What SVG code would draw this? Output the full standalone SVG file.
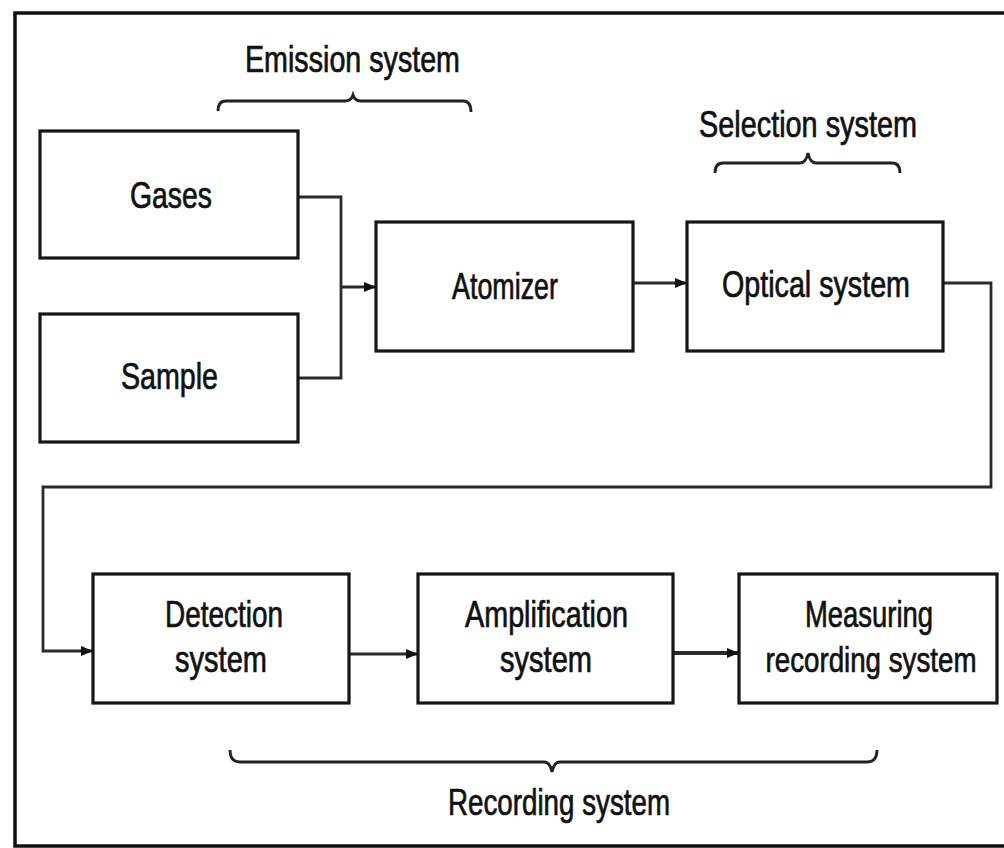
<svg xmlns="http://www.w3.org/2000/svg" width="1004" height="848" viewBox="0 0 1004 848">
<defs>
<style>
.box{fill:#fff;stroke:#161616;stroke-width:3.2}
.t{font-family:"Liberation Sans",Arial,sans-serif;font-size:36px;fill:#111;stroke:#111;stroke-width:0.7}
.c{fill:none;stroke:#2a2a2a;stroke-width:2.8}
.br{fill:none;stroke:#222;stroke-width:2.8}
</style>
<marker id="ah" viewBox="0 0 12 10" refX="12" refY="5" markerWidth="13" markerHeight="10" markerUnits="userSpaceOnUse" orient="auto">
<path d="M0,0 L12,5 L0,10 z" fill="#111"/>
</marker>
</defs>
<rect x="0" y="0" width="1004" height="848" fill="#fff"/>
<path id="frame" d="M1004,13 L15,13 L15,846 L1004,846" fill="none" stroke="#111" stroke-width="3.5"/>

<g id="braces">
<path class="br" d="M218,111 Q218,101 226,101 L345,101 Q351,101 353,95 Q355,101 361,101 L463,101 Q471,101 471,112"/>
<text class="t" x="245" y="72" textLength="215" lengthAdjust="spacingAndGlyphs">Emission system</text>
<path class="br" d="M715,173 Q715,163 723,163 L800,163 Q806,163 808,153 Q810,163 816,163 L892,163 Q900,163 900,173"/>
<text class="t" x="699" y="137" textLength="218" lengthAdjust="spacingAndGlyphs">Selection system</text>
<path class="br" d="M230,750 Q230,762 240,762 L544,762 Q550,762 552,772 Q554,762 560,762 L867,762 Q877,762 877,750"/>
<text class="t" x="448" y="815" textLength="222" lengthAdjust="spacingAndGlyphs">Recording system</text>
</g>

<g id="connectors">
<path class="c" d="M298,197 L341,197 L341,378 L298,378"/>
<path class="c" d="M341,287 L376,287" marker-end="url(#ah)"/>
<path class="c" d="M633,283 L687,283" marker-end="url(#ah)"/>
<path class="c" d="M943,283 L991,283 L991,487 L43,487 L43,651 L93,651" marker-end="url(#ah)"/>
<path class="c" d="M349,654 L418,654" marker-end="url(#ah)"/>
<path class="c" style="stroke-width:4" d="M673,653 L739,653" marker-end="url(#ah)"/>
</g>

<g id="gases">
<rect class="box" x="40" y="131" width="258" height="127"/>
<text class="t" x="130" y="208" textLength="82" lengthAdjust="spacingAndGlyphs">Gases</text>
</g>
<g id="sample">
<rect class="box" x="40" y="314" width="258" height="128"/>
<text class="t" x="121" y="389" textLength="97" lengthAdjust="spacingAndGlyphs">Sample</text>
</g>
<g id="atomizer">
<rect class="box" x="376" y="222" width="257" height="129"/>
<text class="t" x="452" y="299" textLength="106" lengthAdjust="spacingAndGlyphs">Atomizer</text>
</g>
<g id="optical">
<rect class="box" x="687" y="222" width="256" height="129"/>
<text class="t" x="722" y="297" textLength="188" lengthAdjust="spacingAndGlyphs">Optical system</text>
</g>
<g id="detection">
<rect class="box" x="93" y="574" width="256" height="129"/>
<text class="t" x="165" y="627" textLength="118" lengthAdjust="spacingAndGlyphs">Detection</text>
<text class="t" x="175" y="672" textLength="92" lengthAdjust="spacingAndGlyphs">system</text>
</g>
<g id="amplification">
<rect class="box" x="418" y="574" width="255" height="129"/>
<text class="t" x="465" y="627" textLength="163" lengthAdjust="spacingAndGlyphs">Amplification</text>
<text class="t" x="500" y="672" textLength="92" lengthAdjust="spacingAndGlyphs">system</text>
</g>
<g id="measuring">
<rect class="box" x="739" y="574" width="258" height="129"/>
<text class="t" x="805" y="627" textLength="128" lengthAdjust="spacingAndGlyphs">Measuring</text>
<text class="t" transform="translate(871,672) scale(0.77,1)" x="0" y="0" text-anchor="middle">recording system</text>
</g>
</svg>
